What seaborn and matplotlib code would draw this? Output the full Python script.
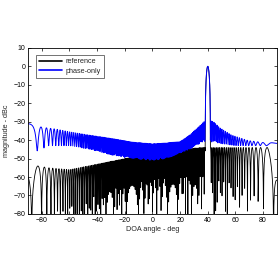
import numpy as np
import pandas as pd
import matplotlib
matplotlib.use("Agg")
import matplotlib.pyplot as plt
import seaborn as sns

# ---------------- data ----------------
steer_deg = 40.0                 # main-lobe direction (deg)
mainlobe_du = 0.025              # main-lobe half width (null) in sin(angle)
lobe_du = 0.0135                 # sidelobe spacing in sin(angle)
ref_null_u = -0.99889            # a sidelobe null of the reference trace (sin of -87.3 deg)
po_peak_u = -1.0                 # a sidelobe peak of the phase-only trace (sin of -90 deg)
angle_step_deg = 0.1             # angular step of the plotted pattern

# reference: sidelobe peak envelope
ref_env_deg = [-90, -86, -83, -75, -60, -40, -20, 0, 20, 35, 45, 60, 75, 83, 90]
ref_env_db = [-48, -54, -54, -55, -56, -53, -50, -47, -45, -44, -44, -44, -44, -44, -48]

# phase-only: sidelobe peak envelope and null-fill (trough) envelope
po_peak_deg = [-90, -85, -80, -70, -60, -48, -30, -15, 0, 10, 20, 27, 35, 38, 42, 44, 49, 57, 69, 80, 90]
po_peak_db = [-31, -32, -33, -34, -35.5, -37, -39, -41, -42, -41.5, -40.8, -37.2, -31.7, -29.4,
              -29.5, -30, -33.5, -37.2, -40.2, -41.3, -41.5]
po_trough_deg = [-90, -83, -75, -60, -45, -30, -15, 0, 10, 20, 30, 36, 44, 50, 60, 75, 90]
po_trough_db = [-42, -46, -43, -43, -45, -48, -50, -51, -50, -47, -44, -41, -41, -42, -43, -43, -43]

series_names = ["reference", "phase-only"]
series_colors = ["#000000", "#0000ff"]
x_ticks = [-80, -60, -40, -20, 0, 20, 40, 60, 80]
y_ticks = [10, 0, -10, -20, -30, -40, -50, -60, -70, -80]

# ---------------- build the traces ----------------
doa = np.arange(-90, 90 + angle_step_deg / 2, angle_step_deg)
u = np.sin(np.deg2rad(doa))
dlt = u - np.sin(np.deg2rad(steer_deg))
inside = np.abs(dlt) < mainlobe_du
main = np.where(inside, np.abs(np.sinc(dlt / mainlobe_du)), 0.0)

ref_env = 10 ** (np.interp(doa, ref_env_deg, ref_env_db) / 20)
ref_side = ref_env * np.abs(np.sin(np.pi * (u - ref_null_u) / lobe_du))
ref_amp = np.where(inside, main, ref_side)
ref_db = 20 * np.log10(np.maximum(ref_amp, 1e-7))

pk = 10 ** (np.interp(doa, po_peak_deg, po_peak_db) / 20)
tr = 10 ** (np.interp(doa, po_trough_deg, po_trough_db) / 20)
s = np.abs(np.cos(np.pi * (u - po_peak_u) / lobe_du))
po_side = np.sqrt(tr ** 2 + (pk ** 2 - tr ** 2) * s ** 2)
po_main = np.sqrt(main ** 2 + tr ** 2)
po_amp = np.where(inside, po_main, po_side)
po_db = 20 * np.log10(po_amp)

df_ref = pd.DataFrame({"angle": doa, "mag": ref_db, "series": series_names[0]})
df_po = pd.DataFrame({"angle": doa, "mag": po_db, "series": series_names[1]})

# ---------------- plot ----------------
sns.set_theme(style="white")
plt.rcParams["font.family"] = ["Liberation Sans", "DejaVu Sans"]

fig = plt.figure(figsize=(2.8, 2.8), dpi=100)
fig.patch.set_facecolor("white")
ax = fig.add_axes([0.1, 0.236, 0.889, 0.593])

sns.lineplot(data=df_ref, x="angle", y="mag", color=series_colors[0], lw=0.6,
             estimator=None, sort=False, ax=ax, label=series_names[0])
sns.lineplot(data=df_po, x="angle", y="mag", color=series_colors[1], lw=0.7,
             estimator=None, sort=False, ax=ax, label=series_names[1])

ax.set_xlim(-90, 90)
ax.set_ylim(-80, 10)
ax.set_xticks(x_ticks)
ax.set_yticks(y_ticks)
ax.tick_params(direction="in", length=2.5, width=0.5, labelsize=5, pad=2,
               top=True, right=True, bottom=True, left=True, colors="black")
for sp in ax.spines.values():
    sp.set_color("black")
    sp.set_linewidth(0.6)
ax.set_xlabel("DOA angle - deg", fontsize=5.2, labelpad=2)
ax.set_ylabel("magnitude - dBc", fontsize=5.2, labelpad=2)

leg = ax.legend(loc="upper left", bbox_to_anchor=(0.032, 0.958), borderaxespad=0,
                fontsize=5.2, handlelength=3.2, handletextpad=0.5, labelspacing=0.35,
                borderpad=0.45, frameon=True, fancybox=False)
leg.get_frame().set_edgecolor("#333333")
leg.get_frame().set_linewidth(0.6)
for line in leg.get_lines():
    line.set_linewidth(1.2)

fig.savefig("out.png", dpi=100, facecolor="white")
